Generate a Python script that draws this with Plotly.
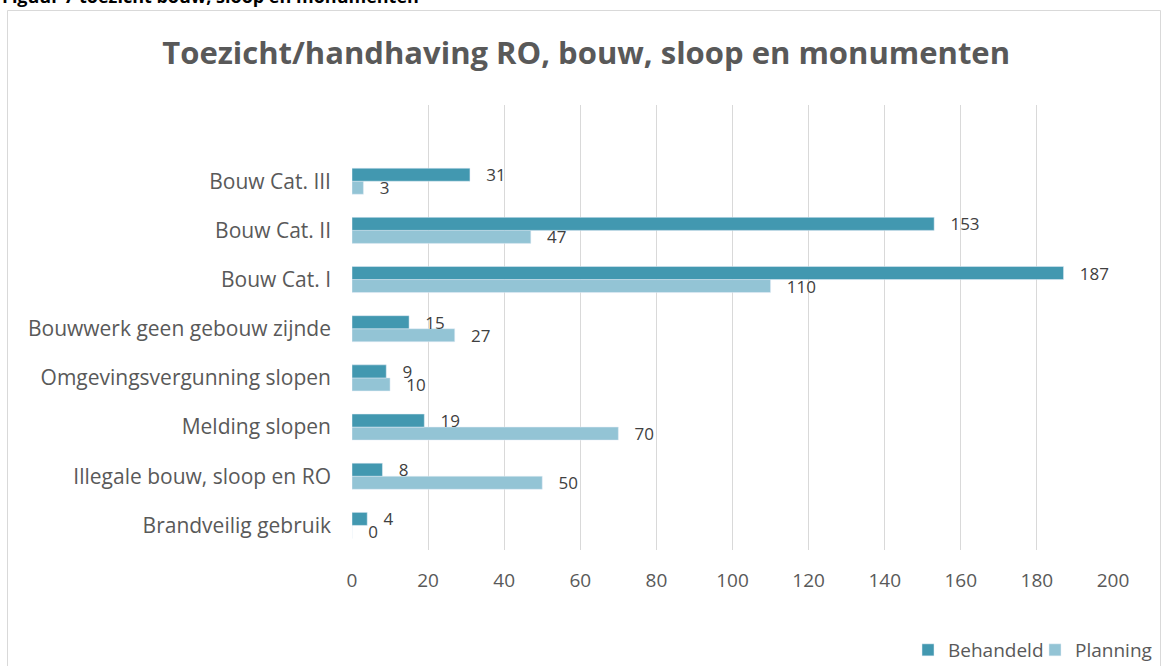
import plotly.graph_objects as go

categories = ["Brandveilig gebruik", "Illegale bouw, sloop en RO", "Melding slopen",
              "Omgevingsvergunning slopen", "Bouwwerk geen gebouw zijnde",
              "Bouw Cat. I", "Bouw Cat. II", "Bouw Cat. III"]
behandeld = [4, 8, 19, 9, 15, 187, 153, 31]
planning = [0, 50, 70, 10, 27, 110, 47, 3]
x_ticks = list(range(0, 201, 20))

FONT = "Open Sans"
GRAY = "#595959"

L, R, T, B = 352, 50, 105, 116
W, H = 1163, 666
pw, ph = W - L - R, H - T - B

def px_x(p):
    return (p - L) / pw

def px_y(p):
    return (H - B - p) / ph

label_tpl = "\u00a0\u00a0\u00a0%{x}"

fig = go.Figure()
fig.add_trace(go.Bar(
    name="Planning", y=categories, x=planning, orientation="h",
    marker=dict(color="#93C4D5"), texttemplate=label_tpl, textposition="outside",
    constraintext="none",
    textfont=dict(size=17, color="#404040", family=FONT), cliponaxis=False,
    legendrank=2,
))
fig.add_trace(go.Bar(
    name="Behandeld", y=categories, x=behandeld, orientation="h",
    marker=dict(color="#4298B0"), texttemplate=label_tpl, textposition="outside",
    constraintext="none",
    textfont=dict(size=17, color="#404040", family=FONT), cliponaxis=False,
    legendrank=1,
))

fig.update_layout(
    width=W, height=H,
    margin=dict(l=L, r=R, t=T, b=B, autoexpand=False),
    paper_bgcolor="white", plot_bgcolor="white",
    barmode="group", bargap=0.47, bargroupgap=0,
    font=dict(family=FONT, color=GRAY, size=18),
    title=dict(text="<b>Toezicht/handhaving RO, bouw, sloop en monumenten</b>",
               x=0.504, xanchor="center", y=1 - 53 / H, yanchor="middle",
               font=dict(size=31, color=GRAY, family=FONT)),
    xaxis=dict(range=[0, 200], tickvals=x_ticks, showgrid=True, gridcolor="#D9D9D9",
               gridwidth=1, zeroline=False, showline=False, ticks="",
               ticklabelstandoff=17, tickfont=dict(size=19, color=GRAY)),
    yaxis=dict(type="category", categoryorder="array", categoryarray=categories,
               range=[-0.5, 8.55], showgrid=False, zeroline=False, showline=False,
               ticks="", ticklabelstandoff=20, tickfont=dict(size=21, color=GRAY)),
    legend=dict(orientation="h", x=px_x(908), xanchor="left", y=px_y(650),
                yanchor="middle", font=dict(size=19, color=GRAY),
                bgcolor="rgba(0,0,0,0)", traceorder="normal", tracegroupgap=0,
                entrywidth=82, entrywidthmode="pixels"),
    showlegend=True,
    shapes=[dict(type="rect", xref="paper", yref="paper",
                 x0=px_x(7.5), x1=px_x(1160.5), y0=px_y(700), y1=px_y(10.5),
                 line=dict(color="#D9D9D9", width=1), fillcolor="rgba(0,0,0,0)",
                 layer="below")],
    annotations=[dict(text="<b>Figuur 7 toezicht bouw, sloop en monumenten</b>",
                      xref="paper", yref="paper", x=px_x(0), y=px_y(-4),
                      xanchor="left", yanchor="middle", showarrow=False,
                      font=dict(size=18, color="black", family=FONT))],
)

fig.write_html("out.html", config={"displayModeBar": False},
               post_script="document.body.style.margin='0';document.body.style.overflow='hidden';")
